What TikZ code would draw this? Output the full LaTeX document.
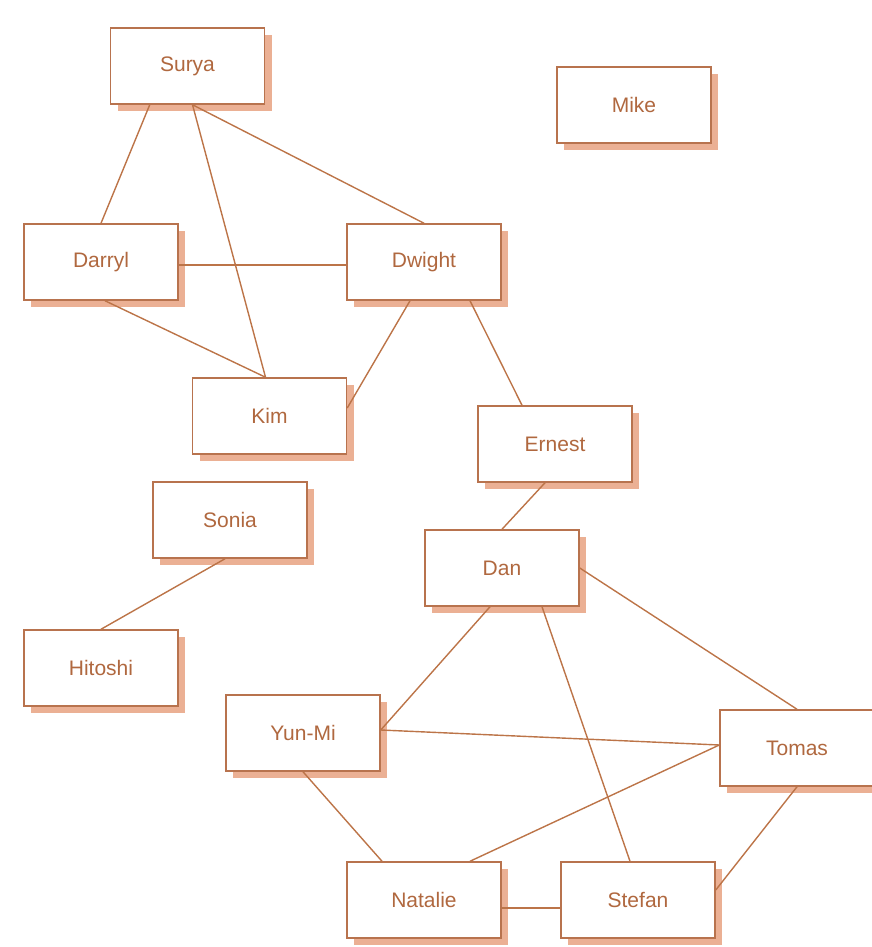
\documentclass[tikz,border=0pt]{standalone}
\usepackage{fontspec}
\setmainfont{Liberation Sans}
\usetikzlibrary{shadows,calc}
\definecolor{boxline}{HTML}{B8734E}
\definecolor{boxtext}{HTML}{B0683F}
\definecolor{boxshadow}{HTML}{EBB094}
\definecolor{edgec}{HTML}{BC7448}
\tikzset{
  person/.style={draw=boxline, line width=1.5pt, fill=white, minimum width=154pt, minimum height=76pt,
    text=boxtext, font=\fontsize{21}{25}\selectfont, inner sep=0pt,
    drop shadow={shadow xshift=7pt, shadow yshift=-7pt, fill=boxshadow, opacity=1}},
  link/.style={draw=edgec, line width=1.4pt}
}
\begin{document}
\begin{tikzpicture}[x=1pt,y=-1pt]
\useasboundingbox (0,0) rectangle (871,947);
\node[person] (surya) at (187.5,66) {Surya};
\node[person] (mike) at (634,105) {Mike};
\node[person] (darryl) at (101,262) {Darryl};
\node[person] (dwight) at (424,262) {Dwight};
\node[person] (kim) at (269.5,416) {Kim};
\node[person] (ernest) at (555,444) {Ernest};
\node[person] (sonia) at (230,520) {Sonia};
\node[person] (dan) at (502,568) {Dan};
\node[person] (hitoshi) at (101,668) {Hitoshi};
\node[person] (yunmi) at (303,733) {Yun-Mi};
\node[person] (tomas) at (797,748) {Tomas};
\node[person] (natalie) at (424,900) {Natalie};
\node[person] (stefan) at (638,900) {Stefan};

\draw[link] ($(surya.south west)+(40,0)$) -- (darryl.north);
\draw[link] ($(surya.south)+(5,0)$) -- ($(kim.north)+(-4,0)$);
\draw[link] ($(surya.south)+(5,0)$) -- (dwight.north);
\draw[link] ($(darryl.east)+(0,3)$) -- ($(dwight.west)+(0,3)$);
\draw[link] ($(darryl.south)+(4,0)$) -- ($(kim.north)+(-4,0)$);
\draw[link] ($(dwight.south)+(-14,0)$) -- ($(kim.east)+(0,-8)$);
\draw[link] ($(dwight.south)+(46,0)$) -- ($(ernest.north)+(-33,0)$);
\draw[link] ($(ernest.south)+(-10,0)$) -- (dan.north);
\draw[link] ($(sonia.south)+(-5,0)$) -- (hitoshi.north);
\draw[link] ($(dan.south)+(-12,0)$) -- ($(yunmi.east)+(0,-3)$);
\draw[link] (dan.east) -- (tomas.north);
\draw[link] ($(dan.south)+(40,0)$) -- ($(stefan.north)+(-8,0)$);
\draw[link] ($(yunmi.east)+(0,-3)$) -- ($(tomas.west)+(0,-3)$);
\draw[link] (yunmi.south) -- ($(natalie.north)+(-42,0)$);
\draw[link] ($(tomas.west)+(0,-3)$) -- ($(natalie.north)+(46,0)$);
\draw[link] (tomas.south) -- ($(stefan.east)+(0,-10)$);
\draw[link] ($(natalie.east)+(0,8)$) -- ($(stefan.west)+(0,8)$);
\end{tikzpicture}
\end{document}
